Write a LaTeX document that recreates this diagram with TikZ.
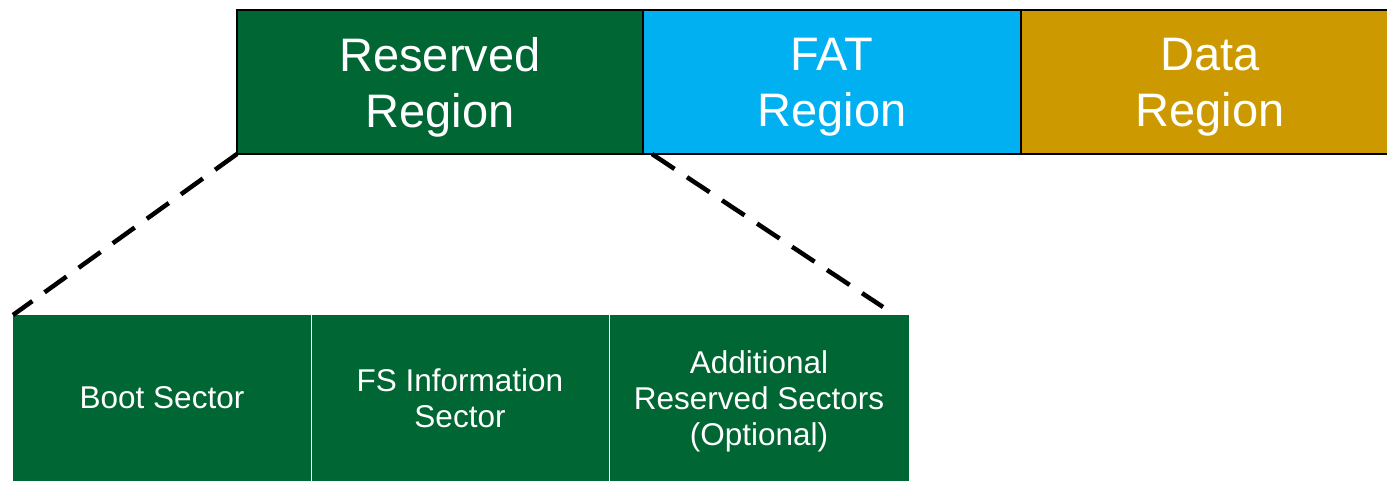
\documentclass[tikz,border=0pt]{standalone}
\usepackage{fontspec}
\setmainfont{Liberation Sans}
\definecolor{resgreen}{HTML}{006633}
\definecolor{fatblue}{HTML}{00B0F0}
\definecolor{datagold}{HTML}{CC9900}
\begin{document}
\begin{tikzpicture}[x=1pt,y=-1pt,
  topbox/.style={draw=black, line width=2pt, minimum height=144pt, inner sep=0pt, outer sep=0pt},
  toptext/.style={text=white, align=center, inner sep=0pt, font=\fontsize{47}{56}\selectfont},
  subbox/.style={minimum height=166pt, minimum width=298pt, inner sep=0pt, outer sep=0pt,
    fill=resgreen},
  subtext/.style={text=white, align=center, inner sep=0pt, font=\fontsize{31.5}{36}\selectfont},
  zoomline/.style={line width=4.5pt, dash pattern=on 27pt off 15pt}]
\useasboundingbox (0,0) rectangle (1387,481);
% top regions
\node[topbox, fill=datagold, minimum width=378pt] (data) at (1210,82) {};
\node[topbox, fill=fatblue, minimum width=378pt] (fat) at (832,82) {};
\node[topbox, fill=resgreen, minimum width=406pt] (res) at (440,82) {};
\node[toptext] (datat) at ([yshift=-5pt]data.center) {Data\\Region};
\node[toptext] (fatt) at ([yshift=-5pt]fat.center) {FAT\\Region};
\node[toptext] (rest) at ([yshift=-5pt]res.center) {Reserved\\Region};
% sub sectors
\node[subbox] (boot) at (162,398) {};
\node[subbox] (fsinfo) at (460,398) {};
\node[subbox, minimum width=300pt] (addl) at (759,398) {};
\node[subtext] (boott) at (boot.center) {Boot Sector};
\node[subtext] (fsinfot) at (fsinfo.center) {FS Information\\Sector};
\node[subtext] (addlt) at ([yshift=-3pt]addl.center) {Additional\\Reserved Sectors\\(Optional)};
\draw[white, line width=1pt] (boot.north east) -- (boot.south east);
\draw[white, line width=1pt] (fsinfo.north east) -- (fsinfo.south east);
% zoom lines
\coordinate (rend) at (883,307);
\draw[zoomline] (res.south west) -- (boot.north west);
\draw[zoomline] ([xshift=9pt]res.south east) -- (rend);
\end{tikzpicture}
\end{document}
